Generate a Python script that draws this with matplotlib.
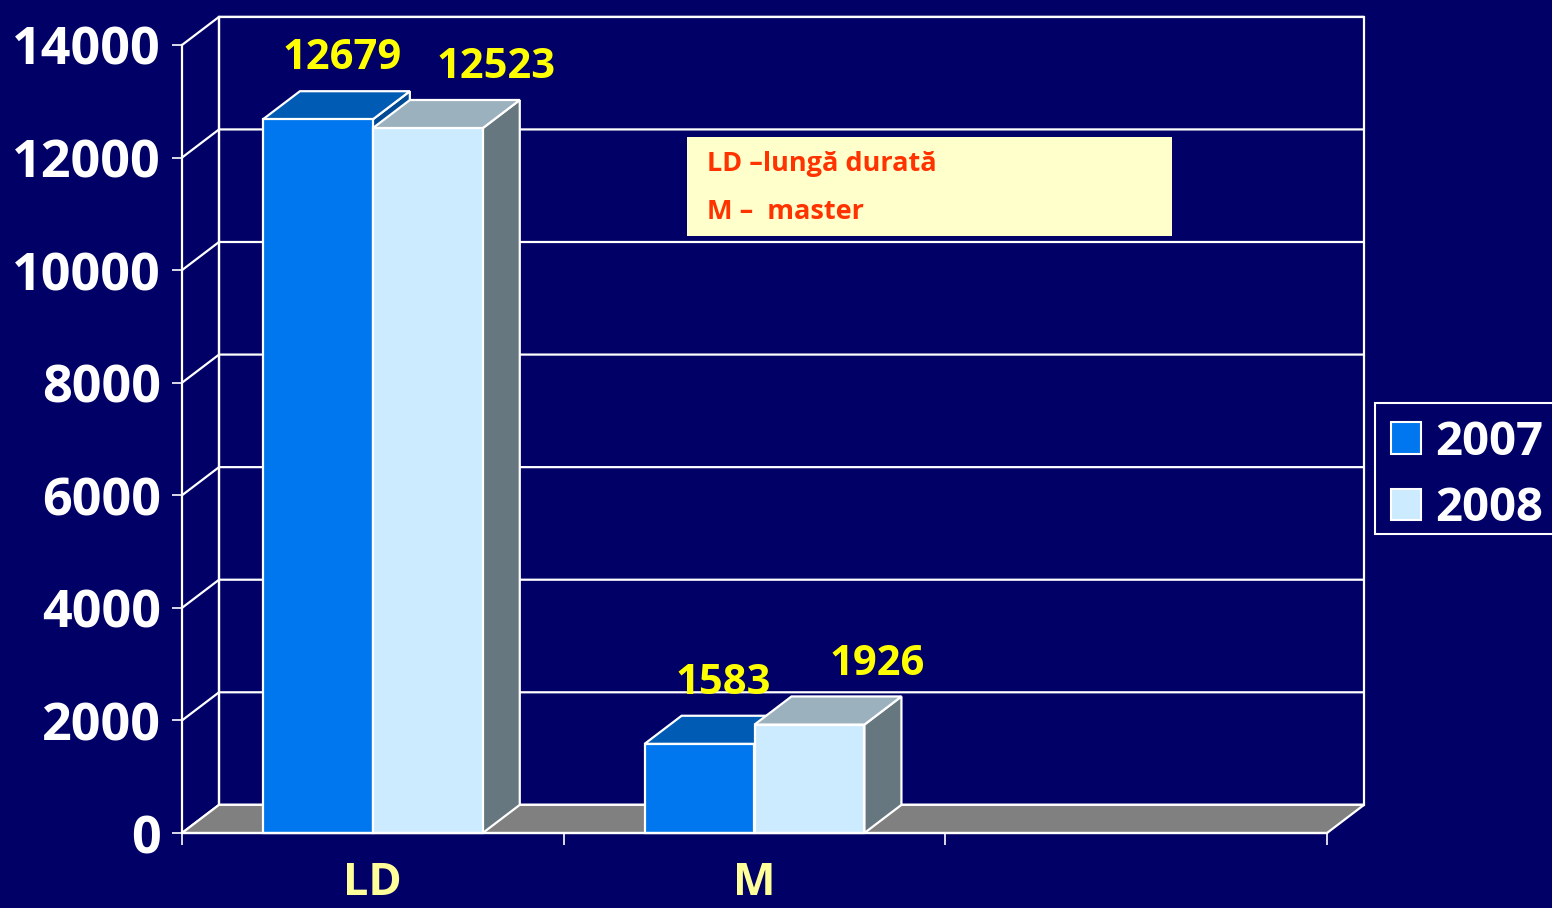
import matplotlib
matplotlib.use("Agg")
import matplotlib.pyplot as plt
from matplotlib.patches import Polygon, Rectangle

# ---------------- data ----------------
categories = ["LD", "M", ""]
series_names = ["2007", "2008"]
values_2007 = [12679, 1583, None]
values_2008 = [12523, 1926, None]
y_ticks = [0, 2000, 4000, 6000, 8000, 10000, 12000, 14000]
note_lines = ["LD \u2013lung\u0103 durat\u0103", "M \u2013  master"]

# ---------------- style ----------------
BG = "#000066"
FRONT = ["#0077EE", "#CCEBFF"]
TOP = ["#005BB4", "#9BB1BE"]
SIDE = ["#004A96", "#67777F"]
FLOOR = "#808080"
WHITE = "white"
LW = 1.6

plt.rcParams['font.family'] = ['Open Sans', 'DejaVu Sans']
plt.rcParams['font.weight'] = 'bold'

FW, FH = 1552, 908
fig = plt.figure(figsize=(FW / 100, FH / 100), dpi=100, facecolor=BG)
ax = fig.add_axes([182 / FW, (FH - 833) / FH, (1327 - 182) / FW, (833 - 45) / FH])
ax.set_facecolor('none')
ncat = len(categories)
ymax = y_ticks[-1]
ax.set_xlim(0, ncat)
ax.set_ylim(0, ymax)

DX = 0.097   # depth offset (x data units)
DY = 500     # depth offset (y data units)
BW = 0.288   # bar width

# back wall
ax.add_patch(Rectangle((DX, DY), ncat, ymax, facecolor=BG, edgecolor=WHITE,
                       lw=LW, clip_on=False, zorder=1))
# gridlines on side wall + back wall
for t in y_ticks:
    ax.plot([0, DX, ncat + DX], [t, t + DY, t + DY], color=WHITE, lw=LW,
            clip_on=False, zorder=2, solid_capstyle='butt')
ax.plot([DX, DX], [DY, ymax + DY], color=WHITE, lw=LW, clip_on=False, zorder=2)

# floor
ax.add_patch(Polygon([(0, 0), (ncat, 0), (ncat + DX, DY), (DX, DY)], closed=True,
                     facecolor=FLOOR, edgecolor=WHITE, lw=LW, clip_on=False, zorder=3))

# bars
series_vals = [values_2007, values_2008]
label_off = [24, 68]
for i in range(ncat):
    for j, vals in enumerate(series_vals):
        h = vals[i]
        if h is None:
            continue
        x0 = i + 0.5 - BW + j * BW
        x1 = x0 + BW
        z = 4 + j
        ax.add_patch(Polygon([(x1, 0), (x1 + DX, DY), (x1 + DX, h + DY), (x1, h)],
                             closed=True, facecolor=SIDE[j], edgecolor=WHITE, lw=LW,
                             clip_on=False, zorder=z))
        ax.add_patch(Polygon([(x0, h), (x1, h), (x1 + DX, h + DY), (x0 + DX, h + DY)],
                             closed=True, facecolor=TOP[j], edgecolor=WHITE, lw=LW,
                             clip_on=False, zorder=z))
        ax.add_patch(Rectangle((x0, 0), BW, h, facecolor=FRONT[j], edgecolor=WHITE,
                               lw=LW, clip_on=False, zorder=z + 0.1))
        ax.annotate(f"{h}", xy=(x0 + BW / 2, h), xytext=(label_off[j], 50),
                    textcoords='offset pixels', ha='center', va='baseline',
                    color='#FFFF00', fontsize=30, fontweight='bold',
                    annotation_clip=False, zorder=10)

# axes / ticks
for s in ['top', 'right']:
    ax.spines[s].set_visible(False)
for s in ['left', 'bottom']:
    ax.spines[s].set_color(WHITE)
    ax.spines[s].set_linewidth(LW)
    ax.spines[s].set_zorder(6)
ax.set_yticks(y_ticks)
ax.set_yticklabels([str(t) for t in y_ticks])
ax.tick_params(axis='y', colors=WHITE, length=7.2, width=1.2, pad=8,
               labelsize=37.5, direction='out')
ax.set_xticks(range(ncat + 1))
ax.set_xticklabels([])
ax.tick_params(axis='x', which='major', colors=WHITE, length=8.6, width=1.2,
               direction='out')
ax.set_xticks([i + 0.5 for i in range(ncat)], minor=True)
ax.set_xticklabels(categories, minor=True)
ax.tick_params(axis='x', which='minor', length=0, pad=20.5, labelsize=32.5,
               labelcolor='#FFFF99')
for lab in ax.get_xticklabels(minor=True) + ax.get_yticklabels():
    lab.set_fontweight('bold')

# note box
fig.add_artist(Rectangle((687 / FW, 1 - 236 / FH), (1172 - 687) / FW, 99 / FH,
                         transform=fig.transFigure, facecolor='#FFFFCC',
                         edgecolor='none', zorder=20))
fig.text(707 / FW, 1 - 164 / FH, note_lines[0], color='#FF3300', fontsize=19.5,
         fontweight='bold', va='center', ha='left', zorder=21)
fig.text(707 / FW, 1 - 212 / FH, note_lines[1], color='#FF3300', fontsize=19.5,
         fontweight='bold', va='center', ha='left', zorder=21)

# legend (frame drawn separately so its size matches the original)
fig.add_artist(Rectangle((1375 / FW, 1 - 534 / FH), 200 / FW, 131 / FH,
                         transform=fig.transFigure, facecolor=BG, edgecolor=WHITE,
                         lw=1.5, zorder=4))
handles = [Rectangle((0, 0), 1, 1, facecolor=FRONT[j], edgecolor=WHITE, lw=1.5)
           for j in range(len(series_names))]
leg = fig.legend(handles, series_names, loc='upper left',
                 bbox_to_anchor=(1375 / FW, 1 - 403 / FH), bbox_transform=fig.transFigure,
                 frameon=False, prop={'size': 34, 'weight': 'bold'},
                 handlelength=0.636, handleheight=0.636, handletextpad=0.3,
                 borderpad=0.33, labelspacing=0.42, borderaxespad=0)
leg.set_zorder(5)
for t in leg.get_texts():
    t.set_color(WHITE)

fig.savefig("out.png", dpi=100, facecolor=BG)
